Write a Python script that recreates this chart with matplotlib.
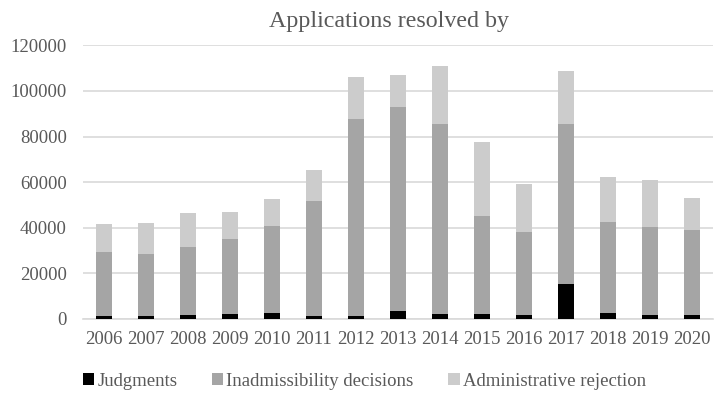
import matplotlib.pyplot as plt
import numpy as np

years = [str(y) for y in range(2006, 2021)]
judgments = [1300, 1300, 1600, 2050, 2350, 1300, 1300, 3400, 1900, 2050, 1450, 15200, 2500, 1750, 1450]
inadmissibility = [28100, 27100, 29850, 32950, 38350, 50500, 86300, 89600, 83800, 43150, 36750, 70500, 39900, 38450, 37450]
administrative = [12400, 13600, 15050, 12000, 12000, 13600, 18600, 13800, 25300, 32500, 20900, 22900, 19800, 20700, 14100]

plt.rcParams['font.family'] = ['Liberation Serif', 'DejaVu Serif']

fig = plt.figure(figsize=(7.21, 3.95), dpi=100)
ax = fig.add_axes([0.115, 0.193, 0.874, 0.692])

x = np.arange(len(years))
w = 0.4
j = np.array(judgments)
i = np.array(inadmissibility)
a = np.array(administrative)
ax.bar(x, j, w, color='#000000', label='Judgments', zorder=3)
ax.bar(x, i, w, bottom=j, color='#a5a5a5', label='Inadmissibility decisions', zorder=3)
ax.bar(x, a, w, bottom=j + i, color='#cccccc', label='Administrative rejection', zorder=3)

ax.set_xlim(-0.5, len(years) - 0.5)
ax.set_ylim(0, 120000)
ax.set_yticks(range(0, 120001, 20000))
ax.yaxis.grid(True, color='#d9d9d9', linewidth=1.2, zorder=0)
ax.set_xticks(x)
ax.set_xticklabels(years)
for s in ['top', 'right', 'left']:
    ax.spines[s].set_visible(False)
ax.spines['bottom'].set_color('#d9d9d9')
ax.spines['bottom'].set_linewidth(1.2)
ax.tick_params(length=0, labelsize=13.5, colors='#595959')
ax.tick_params(axis='x', pad=9)
ax.tick_params(axis='y', pad=11.5)

fig.text(0.539, 0.932, 'Applications resolved by', ha='center', va='baseline', fontsize=17.3, color='#595959')

fig.legend(loc='center', bbox_to_anchor=(0.5055, 0.035), ncol=3, frameon=False,
           fontsize=13.5, handlelength=0.6, handleheight=0.6, handletextpad=0.16,
           columnspacing=1.85, labelcolor='#595959', borderpad=0)

fig.savefig('out.png', dpi=100)
